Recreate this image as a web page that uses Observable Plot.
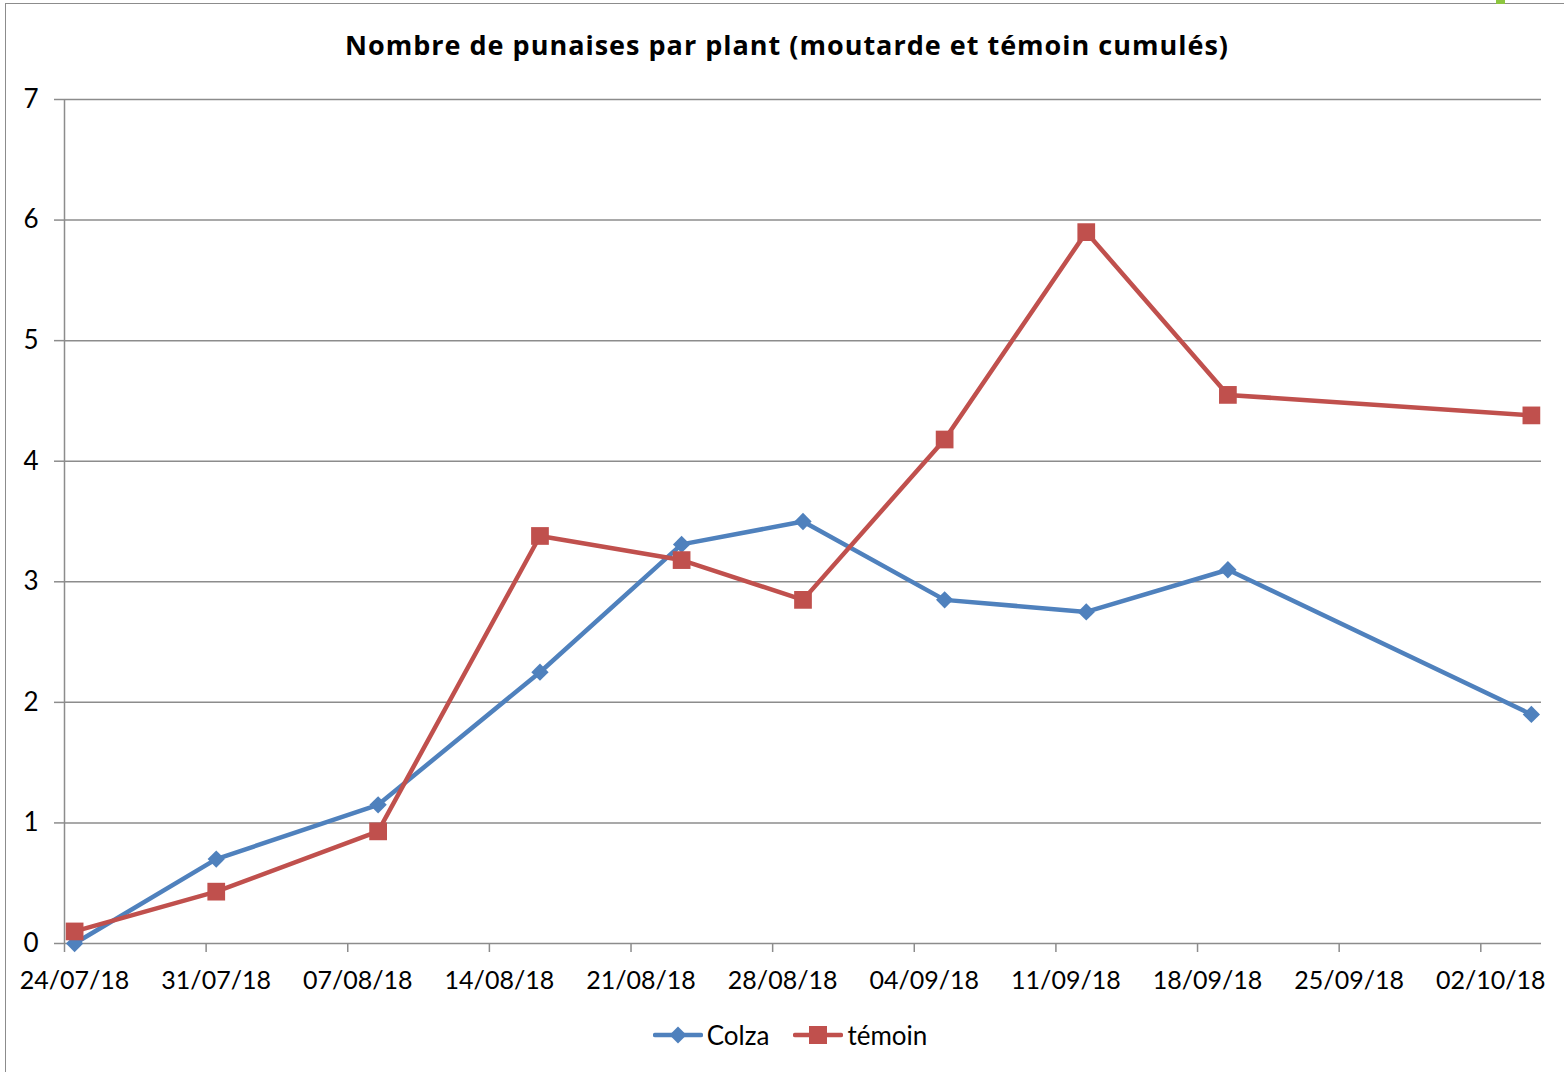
<!DOCTYPE html>
<html>
<head>
<meta charset="utf-8">
<script src="https://cdn.jsdelivr.net/npm/d3@7"></script>
<script src="https://cdn.jsdelivr.net/npm/@observablehq/plot@0.6"></script>
<style>
  html, body { margin: 0; padding: 0; background: #fff; }
  #wrap { position: relative; width: 1564px; height: 1072px; overflow: hidden; font-family: Lato, "Open Sans", sans-serif; }
  #frameTop { position: absolute; left: 5px; top: 3px; width: 1559px; height: 0; border-top: 1.5px solid #8c8c8c; }
  #frameLeft { position: absolute; left: 5px; top: 3px; width: 0; height: 1069px; border-left: 1.5px solid #8c8c8c; }
  #greenMark { position: absolute; left: 1496px; top: 0; width: 9px; height: 4px; background: #8dc63f; }
  #title { position: absolute; left: 0; width: 1574px; top: 26px; text-align: center; font-family: "Open Sans", sans-serif; font-weight: bold; font-size: 27px; letter-spacing: 1px; color: #000; }
  #chart { position: absolute; left: 0; top: 0; }
  #legend { position: absolute; left: 0; width: 1564px; top: 1019px; display: flex; justify-content: center; align-items: center; font-size: 26px; color: #000; padding-left: 16px; box-sizing: border-box; }
  .item { display: flex; align-items: center; margin: 0 12px; }
  .item svg { margin-right: 4px; }
</style>
</head>
<body>
<div id="wrap">
  <div id="frameTop"></div>
  <div id="frameLeft"></div>
  <div id="greenMark"></div>
  <div id="title">Nombre de punaises par plant (moutarde et témoin cumulés)</div>
  <div id="chart"></div>
  <div id="legend"></div>
</div>
<script>
// ---- data ----
const dates = ["2018-07-24", "2018-07-31", "2018-08-08", "2018-08-16", "2018-08-23", "2018-08-29", "2018-09-05", "2018-09-12", "2018-09-19", "2018-10-04"];
const colza = [0, 0.70, 1.15, 2.25, 3.31, 3.50, 2.85, 2.75, 3.10, 1.90];
const temoin = [0.10, 0.43, 0.93, 3.38, 3.18, 2.85, 4.18, 5.90, 4.55, 4.38];
const seriesNames = ["Colza", "témoin"];
const seriesColors = ["#4F81BD", "#C0504D"];
const xTickDates = ["2018-07-24", "2018-07-31", "2018-08-07", "2018-08-14", "2018-08-21", "2018-08-28", "2018-09-04", "2018-09-11", "2018-09-18", "2018-09-25", "2018-10-02"];
const yTicks = [0, 1, 2, 3, 4, 5, 6, 7];
const xDomain = ["2018-07-24", "2018-10-05"];

// ---- build ----
const noon = s => new Date(s + "T12:00:00Z");
const mid = s => new Date(s + "T00:00:00Z");
const rows = [];
dates.forEach((d, i) => {
  rows.push({date: noon(d), value: colza[i], series: seriesNames[0]});
  rows.push({date: noon(d), value: temoin[i], series: seriesNames[1]});
});
const colzaRows = rows.filter(r => r.series === seriesNames[0]);
const temoinRows = rows.filter(r => r.series === seriesNames[1]);
const fmt = d3.utcFormat("%d/%m/%y");
const gridColor = "#8c8c8c";

const chart = Plot.plot({
  width: 1564,
  height: 1000,
  marginTop: 99,
  marginBottom: 57,
  marginLeft: 64,
  marginRight: 23,
  style: {fontFamily: 'Lato, "Open Sans", sans-serif', fontSize: "26px", color: "#000", background: "transparent"},
  x: {type: "utc", domain: xDomain.map(mid)},
  y: {domain: [0, 7]},
  marks: [
    Plot.ruleY(yTicks, {stroke: gridColor, strokeWidth: 1.5}),
    Plot.ruleX([mid(xDomain[0])], {stroke: gridColor, strokeWidth: 1.5}),
    Plot.axisY({ticks: yTicks, tickSize: 10, tickPadding: 16, stroke: gridColor, strokeWidth: 1.5, tickFormat: d => String(d), label: null, fill: "#000"}),
    Plot.axisX({ticks: xTickDates.map(mid), tickSize: 9, tickPadding: 19, fontSize: 25, stroke: gridColor, strokeWidth: 1.5, tickFormat: fmt, label: null, fill: "#000", text: null}),
    Plot.axisX({ticks: xTickDates.map(mid), tickSize: 0, tickPadding: 28, fontSize: 25, tickFormat: fmt, label: null, fill: "#000", dx: 10}),
    Plot.line(colzaRows, {x: "date", y: "value", stroke: seriesColors[0], strokeWidth: 4.5}),
    Plot.line(temoinRows, {x: "date", y: "value", stroke: seriesColors[1], strokeWidth: 4.5}),
    Plot.dot(colzaRows, {x: "date", y: "value", symbol: "square", r: 6.9, rotate: 45, fill: seriesColors[0]}),
    Plot.dot(temoinRows, {x: "date", y: "value", symbol: "square", r: 10, fill: seriesColors[1]})
  ]
});
document.getElementById("chart").appendChild(chart);

// legend
const legend = document.getElementById("legend");
seriesNames.forEach((name, i) => {
  const item = document.createElement("div");
  item.className = "item";
  const sw = i === 0
    ? `<svg width="50" height="20"><line x1="2" y1="10" x2="48" y2="10" stroke="${seriesColors[i]}" stroke-width="4.5" stroke-linecap="round"/><rect x="19" y="4" width="12" height="12" fill="${seriesColors[i]}" transform="rotate(45 25 10)"/></svg>`
    : `<svg width="50" height="20"><line x1="2" y1="10" x2="48" y2="10" stroke="${seriesColors[i]}" stroke-width="4.5" stroke-linecap="round"/><rect x="16" y="1" width="18" height="18" fill="${seriesColors[i]}"/></svg>`;
  item.innerHTML = sw + `<span>${name}</span>`;
  legend.appendChild(item);
});
</script>
</body>
</html>
